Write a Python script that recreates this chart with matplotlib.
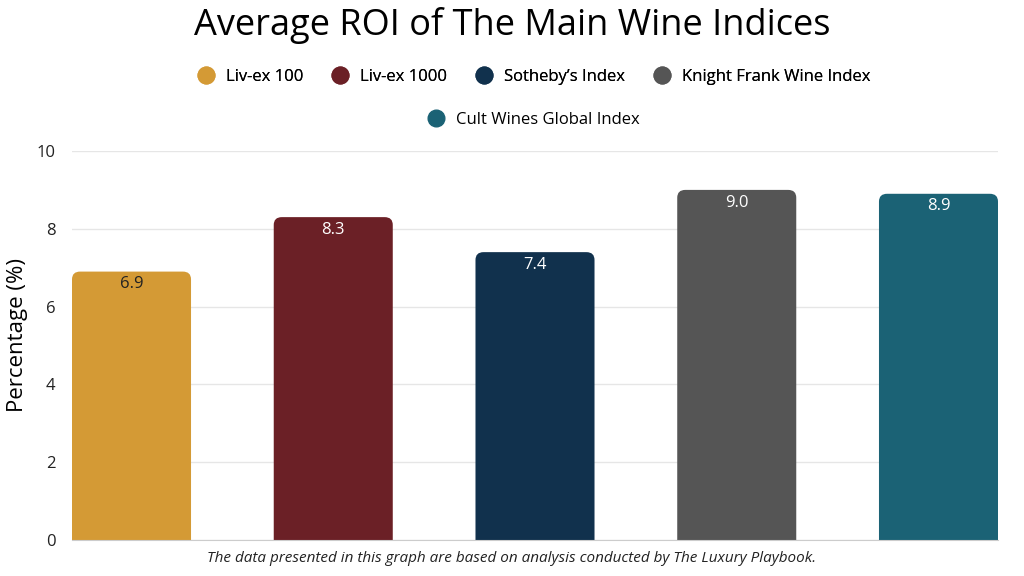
import matplotlib.pyplot as plt
from matplotlib.patches import FancyBboxPatch
from matplotlib.lines import Line2D

# data
indices = ["Liv-ex 100", "Liv-ex 1000", "Sotheby\u2019s Index",
           "Knight Frank Wine Index", "Cult Wines Global Index"]
roi = [6.9, 8.3, 7.4, 9.0, 8.9]
colors = ["#D49A35", "#6B2026", "#11314D", "#555555", "#1B6275"]
label_colors = ["#222222", "white", "white", "white", "white"]

plt.rcParams['font.family'] = ['Open Sans', 'DejaVu Sans']

fig = plt.figure(figsize=(10.24, 5.76), dpi=100)
# axes spans y=0..10 between pixel 540 and 151
ax = fig.add_axes([72/1024, 36/576, (998-72)/1024, (540-151)/576])

width = 0.59
xs = list(range(len(roi)))
for x, v, c, lc in zip(xs, roi, colors, label_colors):
    box = FancyBboxPatch((x - width/2, -0.5), width, v + 0.5,
                         boxstyle="round,pad=0,rounding_size=0.04",
                         mutation_aspect=5.0, fc=c, ec="none", zorder=3)
    ax.add_patch(box)
    ax.text(x, v - 0.12, f"{v:.1f}", ha="center", va="top",
            color=lc, fontsize=12, zorder=4)

ax.set_xlim(-0.295, 4.295)
ax.set_ylim(0, 10)
ax.set_yticks([0, 2, 4, 6, 8, 10])
ax.set_xticks([])
ax.grid(axis="y", color="#e6e6e6", linewidth=1, zorder=0)
for s in ["top", "right", "left"]:
    ax.spines[s].set_visible(False)
ax.spines["bottom"].set_color("#cccccc")
ax.spines["bottom"].set_zorder(5)
ax.tick_params(axis="y", length=0, pad=12, labelsize=12, labelcolor="#222222")

fig.text(18/1024, 1 - 335/576, "Percentage (%)", rotation=90,
         ha="center", va="center", fontsize=16, color="black")

fig.text(0.5, 1 - 25/576, "Average ROI of The Main Wine Indices",
         ha="center", va="center", fontsize=26, color="black")

handles = [Line2D([], [], marker="o", linestyle="", markersize=12,
                  markerfacecolor=c, markeredgecolor=c) for c in colors]
leg1 = fig.legend(handles[:4], indices[:4], loc="center",
                  bbox_to_anchor=(530/1024, 1 - 77/576), ncol=4, frameon=False,
                  fontsize=12, handletextpad=0.2, columnspacing=1.2)
leg2 = fig.legend(handles[4:], indices[4:], loc="center",
                  bbox_to_anchor=(530/1024, 1 - 120/576), ncol=1, frameon=False,
                  fontsize=12, handletextpad=0.2)
fig.add_artist(leg1)

fig.text(0.5, 1 - 558/576,
         "The data presented in this graph are based on analysis conducted by The Luxury Playbook.",
         ha="center", va="center", fontsize=11, style="italic", color="#222222")

fig.savefig("out.png", dpi=100)
